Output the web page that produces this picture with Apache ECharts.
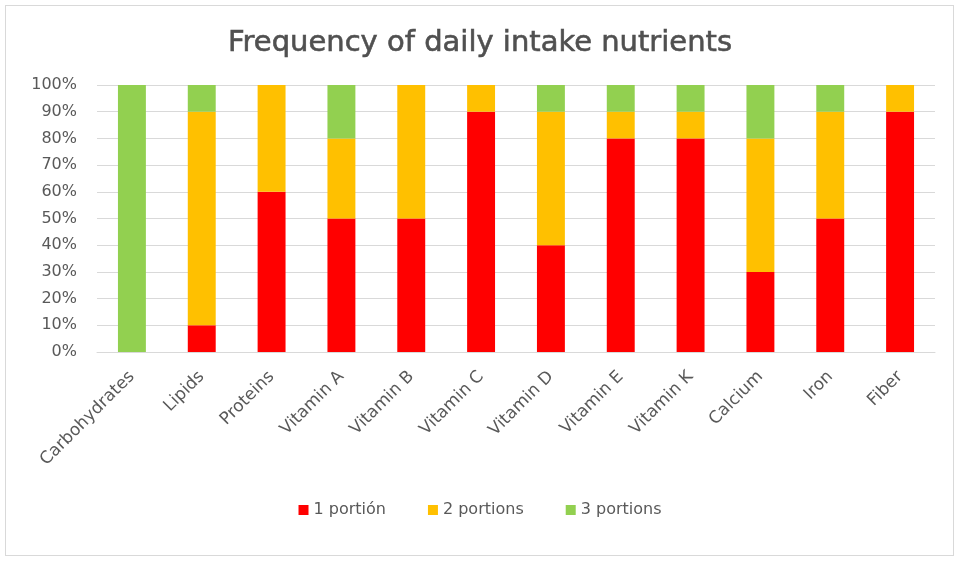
<!DOCTYPE html>
<html><head><meta charset="utf-8">
<script src="https://cdn.jsdelivr.net/npm/echarts@6/dist/echarts.min.js"></script>
<style>
html,body{margin:0;padding:0;background:#fff;}
#wrap{position:absolute;left:5px;top:5px;width:949px;height:551px;border:1px solid #D9D9D9;box-sizing:border-box;}
#c{position:absolute;left:0;top:0;width:960px;height:563px;}
</style></head>
<body>
<div id="wrap"></div>
<div id="c"></div>
<script>
const categories = ["Carbohydrates","Lipids","Proteins","Vitamin A","Vitamin B","Vitamin C","Vitamin D","Vitamin E","Vitamin K","Calcium","Iron","Fiber"];
const portion1 = [0,10,60,50,50,90,40,80,80,30,50,90];
const portion2 = [0,80,40,30,50,10,50,10,10,50,40,10];
const portion3 = [100,10,0,20,0,0,10,10,10,20,10,0];
const seriesNames = ["1 portión","2 portions","3 portions"];
const colors = ["#FF0000","#FFC000","#92D050"];
const FONT = "DejaVu Sans";
const chart = echarts.init(document.getElementById('c'));
const mk = (name, data, color) => ({
  name, type:'bar', stack:'total', data, barWidth:'40%',
  itemStyle:{color}
});
chart.setOption({
  animation:false,
  title:{text:"Frequency of daily intake nutrients",left:'center',top:24,
    textStyle:{fontFamily:FONT,fontSize:29,fontWeight:'normal',color:'#505050',
      textBorderColor:'#505050',textBorderWidth:0.6}},
  legend:{bottom:40,left:'center',itemWidth:10,itemHeight:10,itemGap:42,icon:'rect',
    textStyle:{fontFamily:FONT,fontSize:16,color:'#595959'},
    data:seriesNames},
  grid:{left:97,right:25,top:85,bottom:211,containLabel:false},
  xAxis:{type:'category',data:categories,
    axisLine:{lineStyle:{color:'#D9D9D9'}},axisTick:{show:false},
    axisLabel:{rotate:45,interval:0,fontFamily:FONT,fontSize:17,color:'#595959',margin:22}},
  yAxis:{type:'value',min:0,max:100,interval:10,
    axisLabel:{formatter:'{value}%',fontFamily:FONT,fontSize:16,color:'#595959',margin:20},
    splitLine:{lineStyle:{color:'#D9D9D9'}},axisLine:{show:false},axisTick:{show:false}},
  series:[mk(seriesNames[0],portion1,colors[0]),mk(seriesNames[1],portion2,colors[1]),mk(seriesNames[2],portion3,colors[2])]
});
</script>
</body></html>
